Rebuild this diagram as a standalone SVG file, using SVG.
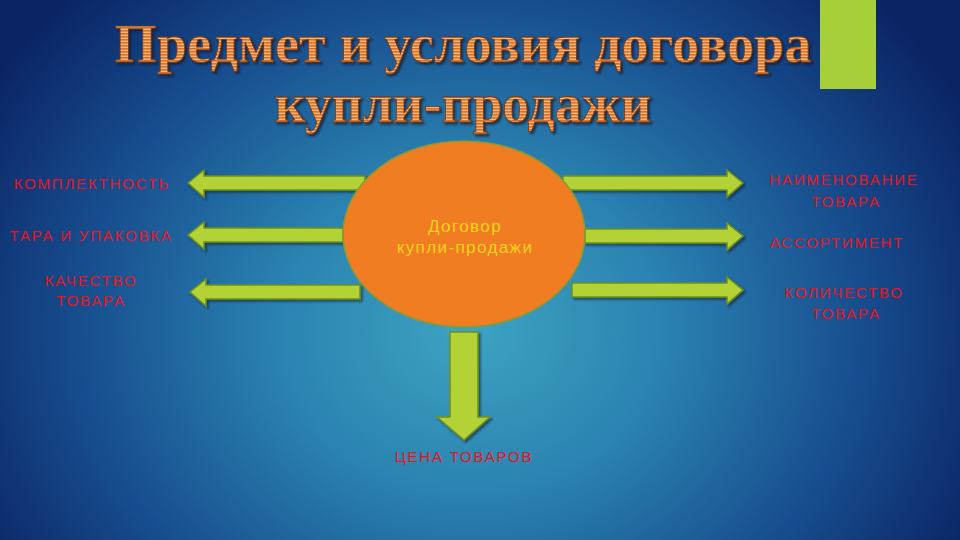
<svg xmlns="http://www.w3.org/2000/svg" width="960" height="540" viewBox="0 0 960 540">
<defs>
<radialGradient id="bg" cx="470" cy="330" r="560" gradientUnits="userSpaceOnUse" gradientTransform="translate(470 330) scale(1 0.85) translate(-470 -330)">
<stop offset="0" stop-color="#3ea3c2"/>
<stop offset="0.35" stop-color="#2a82b0"/>
<stop offset="0.7" stop-color="#174d8e"/>
<stop offset="1" stop-color="#0b2464"/>
</radialGradient>
<pattern id="stripes" width="4" height="3" patternUnits="userSpaceOnUse">
<rect width="4" height="3" fill="#f3b777"/>
<rect width="4" height="1.6" fill="#dd6f2a"/>
</pattern>
<filter id="sh" x="-10%" y="-30%" width="120%" height="160%">
<feDropShadow dx="2" dy="2" stdDeviation="1.2" flood-color="#0a1a30" flood-opacity="0.6"/>
</filter>
<filter id="tsh" x="-5%" y="-30%" width="110%" height="160%">
<feDropShadow dx="2" dy="2" stdDeviation="0.8" flood-color="#1a1a28" flood-opacity="0.75"/>
</filter>
</defs>
<style>
.title{font-family:"Liberation Serif",serif;font-weight:bold;font-size:54px;fill:url(#stripes);stroke:#6a3a1a;stroke-width:0.8;text-anchor:middle}
.lbl{font-family:"Liberation Sans",sans-serif;font-size:15px;letter-spacing:1.8px;fill:#e8141e;text-anchor:middle}
.arrow{fill:#b2d235;stroke:#6f8f1c;stroke-width:1.5;stroke-linejoin:miter}
.ctr{font-family:"Liberation Sans",sans-serif;font-size:17px;letter-spacing:1.4px;fill:#f6d21e;text-anchor:middle}
</style>
<rect width="960" height="540" fill="url(#bg)"/>
<rect x="820" y="0" width="56" height="89" fill="#a6cf3a"/>
<g id="title" filter="url(#tsh)">
<text class="title" x="463" y="62" textLength="697" lengthAdjust="spacingAndGlyphs">Предмет и условия договора</text>
<text class="title" x="463" y="122" textLength="377" lengthAdjust="spacingAndGlyphs">купли-продажи</text>
</g>
<g id="connectors" filter="url(#sh)">
<polygon class="arrow" points="365,176 204,176 204,170 188,183 204,197 204,190 365,190"/>
<polygon class="arrow" points="343,228 204,228 204,222 188,235 204,249 204,242 343,242"/>
<polygon class="arrow" points="360,285 206,285 206,279 190,292 206,306 206,299 360,299"/>
<polygon class="arrow" points="563,176 727,176 727,170 743,183 727,197 727,190 563,190"/>
<polygon class="arrow" points="585,229 727,229 727,223 743,236 727,250 727,243 585,243"/>
<polygon class="arrow" points="572,283 727,283 727,277 743,290 727,304 727,297 572,297"/>
<polygon class="arrow" points="450,332 478,332 478,417 490,417 464,440 437,417 450,417"/>
</g>
<g id="center">
<ellipse cx="464" cy="234" rx="121" ry="93" fill="#f07d22" stroke="#8a9a30" stroke-width="1.5"/>
<text class="ctr" x="465" y="232">Договор</text>
<text class="ctr" x="465" y="253">купли-продажи</text>
</g>
<g id="komplektnost"><text class="lbl" x="92" y="189">КОМПЛЕКТНОСТЬ</text></g>
<g id="tara"><text class="lbl" x="91" y="241">ТАРА И УПАКОВКА</text></g>
<g id="kachestvo"><text class="lbl" x="91" y="286">КАЧЕСТВО</text><text class="lbl" x="91" y="306">ТОВАРА</text></g>
<g id="naimenovanie"><text class="lbl" x="844" y="185">НАИМЕНОВАНИЕ</text><text class="lbl" x="846" y="207">ТОВАРА</text></g>
<g id="assortiment"><text class="lbl" x="837" y="248">АССОРТИМЕНТ</text></g>
<g id="kolichestvo"><text class="lbl" x="844" y="298">КОЛИЧЕСТВО</text><text class="lbl" x="846" y="319">ТОВАРА</text></g>
<g id="cena"><text class="lbl" x="464" y="462">ЦЕНА ТОВАРОВ</text></g>
</svg>
